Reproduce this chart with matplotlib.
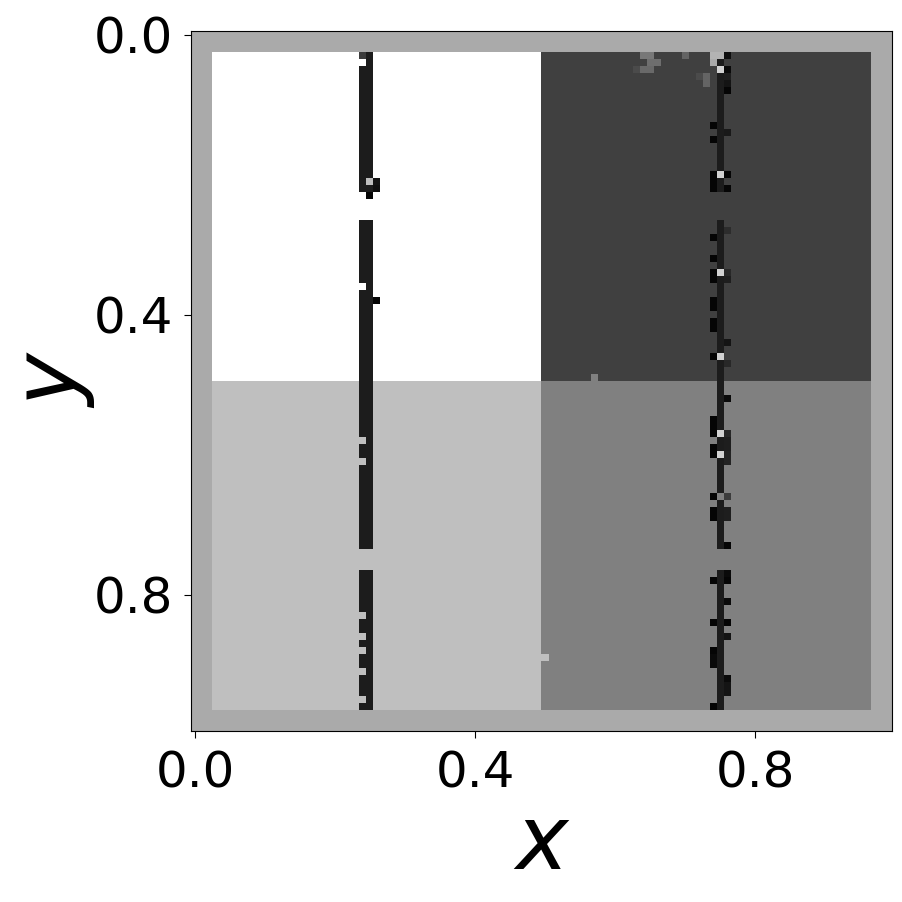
import numpy as np
import matplotlib
matplotlib.use("Agg")
import matplotlib.pyplot as plt

# grid: 100 x 100 cells, cell centres at 0.00 .. 0.99
n = 100
step = 0.01
border = 3
split = 50

# grey levels (0-255)
border_val = 170
quad_vals = [[255, 64],    # top-left, top-right
             [191, 128]]   # bottom-left, bottom-right
stripe_val = 28

# left stripe: columns 24-25, row segments (start, stop)
left_cols = [24, 25]
left_segments = [(3, 23), (27, 74), (77, 97)]
left_missing = [(4, 24), (36, 24), (58, 24), (61, 24), (83, 24),
                (86, 24), (88, 24), (91, 24), (95, 24), (23, 24)]
left_extra = [(21, 26, 20), (22, 26, 15), (23, 25, 5), (38, 26, 5),
              (21, 25, 190), (3, 24, 60)]

# right stripe: column 75, extra cells on 74 / 76
right_cols = [75]
right_segments = [(3, 23), (27, 74), (77, 97)]
right_extra = [(3, 76, 15), (5, 76, 10), (6, 76, 30), (7, 76, 20), (8, 76, 5),
               (13, 74, 5), (15, 74, 5), (14, 76, 25),
               (20, 74, 5), (21, 74, 5), (22, 74, 5), (22, 76, 5), (20, 76, 5),
               (29, 74, 5), (28, 76, 45), (32, 74, 5), (34, 74, 5), (35, 74, 5),
               (34, 76, 40), (35, 76, 30), (38, 74, 5), (39, 74, 5),
               (41, 74, 5), (42, 74, 5), (44, 76, 20), (46, 74, 5), (47, 76, 40),
               (52, 76, 10), (55, 74, 5), (56, 74, 5), (57, 74, 5), (57, 76, 40),
               (59, 74, 5), (60, 74, 5), (58, 76, 30), (59, 76, 30), (60, 76, 35),
               (61, 76, 35), (66, 74, 5), (66, 76, 60), (68, 74, 5), (69, 74, 5),
               (68, 76, 30), (69, 76, 30), (73, 76, 5),
               (77, 76, 10), (78, 74, 5), (78, 76, 5), (81, 76, 10), (84, 74, 5),
               (84, 76, 5), (86, 76, 20), (88, 74, 5), (89, 74, 10), (90, 74, 10),
               (92, 76, 10), (93, 76, 20), (94, 76, 20), (96, 74, 5)]
right_light = [(3, 74, 180), (4, 74, 170), (3, 75, 180), (5, 75, 210),
               (20, 75, 210), (34, 75, 210), (46, 75, 210), (57, 75, 210),
               (60, 75, 210), (66, 75, 128)]

# small blotches in the top-right quadrant and along the split
noise = [(3, 64, 120), (3, 65, 120), (4, 65, 110), (4, 66, 110), (5, 64, 105),
         (5, 65, 105), (5, 63, 75), (3, 70, 100), (6, 72, 75), (6, 73, 100),
         (7, 73, 100), (49, 57, 128), (89, 50, 191)]

xy_ticks = [0.0, 0.4, 0.8]

img = np.full((n, n), border_val, dtype=float)
img[border:split, border:split] = quad_vals[0][0]
img[border:split, split:n - border] = quad_vals[0][1]
img[split:n - border, border:split] = quad_vals[1][0]
img[split:n - border, split:n - border] = quad_vals[1][1]

for r0, r1 in left_segments:
    for c in left_cols:
        img[r0:r1, c] = stripe_val
for r, c in left_missing:
    img[r, c] = quad_vals[0][0] if r < split else quad_vals[1][0]
for r, c, v in left_extra:
    img[r, c] = v

for r0, r1 in right_segments:
    for c in right_cols:
        img[r0:r1, c] = stripe_val
for r, c, v in right_extra + right_light + noise:
    img[r, c] = v

fig = plt.figure(figsize=(9.02, 9.02), dpi=100)
ax = fig.add_axes([0.2123, 0.1896, 0.7761, 0.7755])
ext = (-step / 2, (n - 0.5) * step, (n - 0.5) * step, -step / 2)
ax.imshow(img, cmap="gray", vmin=0, vmax=255, interpolation="nearest",
          extent=ext, aspect="auto")
ax.set_xticks(xy_ticks)
ax.set_yticks(xy_ticks)
ax.tick_params(labelsize=36, length=5, pad=8)
ax.set_xlabel("x", fontsize=64, style="italic", labelpad=3)
ax.set_ylabel("y", fontsize=64, style="italic", labelpad=-2)

fig.savefig("out.png", dpi=100)
